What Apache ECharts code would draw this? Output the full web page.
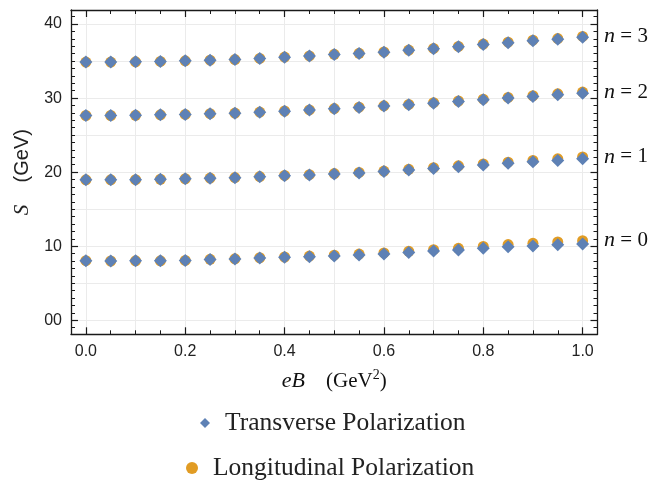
<!DOCTYPE html>
<html>
<head>
<meta charset="utf-8">
<title>S vs eB</title>
<script src="https://cdn.jsdelivr.net/npm/echarts@6/dist/echarts.min.js"></script>
<style>
  html, body { margin: 0; padding: 0; background: #ffffff; }
  #chart { width: 649px; height: 483px; }
</style>
</head>
<body>
<div id="chart"></div>
<script>
// Magnetic field strength eB (GeV^2)
const eB = [0.00, 0.05, 0.10, 0.15, 0.20, 0.25, 0.30, 0.35, 0.40, 0.45, 0.50,
            0.55, 0.60, 0.65, 0.70, 0.75, 0.80, 0.85, 0.90, 0.95, 1.00];

// S (GeV), transverse polarization, levels n = 0..3
const transverseN0 = [8.04, 8.00, 8.02, 8.03, 8.07, 8.20, 8.27, 8.40, 8.49, 8.59, 8.69,
                      8.82, 8.96, 9.14, 9.34, 9.50, 9.71, 9.92, 10.04, 10.18, 10.30];
const transverseN1 = [18.96, 18.96, 18.98, 19.04, 19.10, 19.19, 19.25, 19.38, 19.52, 19.62, 19.76,
                      19.90, 20.08, 20.29, 20.50, 20.74, 20.97, 21.19, 21.40, 21.58, 21.80];
const transverseN2 = [27.65, 27.65, 27.68, 27.74, 27.79, 27.88, 27.97, 28.10, 28.24, 28.38, 28.55,
                      28.73, 28.92, 29.10, 29.32, 29.54, 29.78, 30.00, 30.21, 30.45, 30.67];
const transverseN3 = [34.86, 34.86, 34.90, 34.95, 35.04, 35.13, 35.21, 35.35, 35.53, 35.68, 35.89,
                      36.02, 36.21, 36.45, 36.66, 36.93, 37.24, 37.49, 37.74, 37.95, 38.23];

// S (GeV), longitudinal polarization, levels n = 0..3
const longitudinalN0 = [8.04, 8.00, 8.02, 8.03, 8.08, 8.22, 8.30, 8.44, 8.54, 8.66, 8.78,
                        8.93, 9.09, 9.30, 9.53, 9.72, 9.97, 10.22, 10.39, 10.58, 10.75];
const longitudinalN1 = [18.96, 18.96, 18.98, 19.04, 19.11, 19.20, 19.27, 19.40, 19.55, 19.66, 19.81,
                        19.96, 20.15, 20.38, 20.60, 20.86, 21.11, 21.35, 21.59, 21.80, 22.05];
const longitudinalN2 = [27.65, 27.65, 27.68, 27.74, 27.79, 27.89, 27.98, 28.11, 28.26, 28.40, 28.58,
                        28.77, 28.96, 29.15, 29.38, 29.61, 29.86, 30.09, 30.32, 30.58, 30.82];
const longitudinalN3 = [34.86, 34.86, 34.90, 34.95, 35.04, 35.13, 35.21, 35.36, 35.54, 35.70, 35.91,
                        36.05, 36.24, 36.49, 36.71, 36.98, 37.30, 37.56, 37.82, 38.04, 38.33];

const levelNames = ['0', '1', '2', '3'];

// Tick and grid positions
const xMajorTicks = [0, 0.2, 0.4, 0.6, 0.8, 1.0];
const xMinorTicks = [0, 0.05, 0.1, 0.15, 0.2, 0.25, 0.3, 0.35, 0.4, 0.45, 0.5,
                     0.55, 0.6, 0.65, 0.7, 0.75, 0.8, 0.85, 0.9, 0.95, 1.0];
const xGridValues = [0, 0.1, 0.2, 0.3, 0.4, 0.5, 0.6, 0.7, 0.8, 0.9, 1.0];
const yMajorTicks = [0, 10, 20, 30, 40];
const yMinorTicks = [-1, 0, 1, 2, 3, 4, 5, 6, 7, 8, 9, 10, 11, 12, 13, 14, 15, 16, 17, 18, 19, 20,
                     21, 22, 23, 24, 25, 26, 27, 28, 29, 30, 31, 32, 33, 34, 35, 36, 37, 38, 39, 40, 41];
const yGridValues = [0, 5, 10, 15, 20, 25, 30, 35, 40];
const yTickLabels = ['00', '10', '20', '30', '40'];

const X_MIN = -0.03, X_MAX = 1.03;
const Y_MIN = -1.9, Y_MAX = 41.9;

const BLUE = '#5E81B5';
const ORANGE = '#E19C24';
const FRAME = '#1a1a1a';

function axisBase(min, max, position) {
  return {
    type: 'value', min: min, max: max, position: position,
    axisLine: { show: false, onZero: false },
    axisTick: { show: false },
    axisLabel: { show: false },
    splitLine: { show: false },
    minorTick: { show: false },
    silent: true
  };
}
function frameAxis(min, max, position, ticks, len) {
  const a = axisBase(min, max, position);
  a.axisLine = { show: true, onZero: false, lineStyle: { color: FRAME, width: 1.3 } };
  a.axisTick = { show: true, inside: true, length: len, customValues: ticks,
                 lineStyle: { color: FRAME, width: 1.2 } };
  return a;
}
function tickAxis(min, max, position, ticks, len) {
  const a = axisBase(min, max, position);
  a.axisTick = { show: true, inside: true, length: len, customValues: ticks,
                 lineStyle: { color: FRAME, width: 1 } };
  return a;
}
function gridAxis(min, max, position, values) {
  const a = axisBase(min, max, position);
  a.axisTick = { show: false, customValues: values };
  a.splitLine = { show: true, lineStyle: { color: '#ebebeb', width: 1 } };
  return a;
}

// Bottom axis with labels and title
const xMain = frameAxis(X_MIN, X_MAX, 'bottom', xMajorTicks, 7);
xMain.axisLabel = {
  show: true, customValues: xMajorTicks, margin: 9,
  formatter: v => Number(v).toFixed(1),
  fontFamily: 'Liberation Sans', fontSize: 16, color: '#222'
};
xMain.name = '{i|eB}    {t|(GeV}{s|2}{t|)}';
xMain.nameLocation = 'middle';
xMain.nameGap = 34;
xMain.nameMoveOverlap = false;
xMain.nameTextStyle = {
  fontFamily: 'Liberation Serif', fontSize: 21, color: '#111',
  rich: {
    i: { fontFamily: 'Liberation Serif', fontStyle: 'italic', fontSize: 22, color: '#111' },
    t: { fontFamily: 'Liberation Serif', fontSize: 21, color: '#111' },
    s: { fontFamily: 'Liberation Serif', fontSize: 14, color: '#111', verticalAlign: 'top', padding: [0, 0, 12, 0] }
  }
};

// Left axis with labels and title
const yMain = frameAxis(Y_MIN, Y_MAX, 'left', yMajorTicks, 7);
yMain.axisLabel = {
  show: true, customValues: yMajorTicks, margin: 9,
  formatter: v => yTickLabels[yMajorTicks.indexOf(Math.round(v))],
  fontFamily: 'Liberation Sans', fontSize: 16, color: '#222'
};
yMain.name = '{i|S}    (GeV)';
yMain.nameLocation = 'middle';
yMain.nameGap = 38;
yMain.nameMoveOverlap = false;
yMain.nameTextStyle = {
  fontFamily: 'Liberation Sans', fontSize: 20, color: '#222',
  rich: { i: { fontFamily: 'Liberation Serif', fontStyle: 'italic', fontSize: 21, color: '#222' } }
};

const xAxes = [
  xMain,
  tickAxis(X_MIN, X_MAX, 'bottom', xMinorTicks, 4),
  frameAxis(X_MIN, X_MAX, 'top', xMajorTicks, 7),
  tickAxis(X_MIN, X_MAX, 'top', xMinorTicks, 4),
  gridAxis(X_MIN, X_MAX, 'bottom', xGridValues)
];
const yAxes = [
  yMain,
  tickAxis(Y_MIN, Y_MAX, 'left', yMinorTicks, 4),
  frameAxis(Y_MIN, Y_MAX, 'right', yMajorTicks, 7),
  tickAxis(Y_MIN, Y_MAX, 'right', yMinorTicks, 4),
  gridAxis(Y_MIN, Y_MAX, 'left', yGridValues)
];

function pairs(values) {
  return eB.map((x, i) => [x, values[i]]);
}

const longitudinalSets = [longitudinalN0, longitudinalN1, longitudinalN2, longitudinalN3];
const transverseSets = [transverseN0, transverseN1, transverseN2, transverseN3];

const series = [];
longitudinalSets.forEach((vals, k) => {
  series.push({
    name: 'Longitudinal Polarization', type: 'scatter',
    xAxisIndex: 0, yAxisIndex: 0,
    symbol: 'circle', symbolSize: 11,
    itemStyle: { color: ORANGE, opacity: 1 },
    data: pairs(vals),
    z: 2, silent: true,
    label: {
      show: true, position: 'right', distance: 16,
      formatter: p => p.dataIndex === eB.length - 1 ? '{i|n} = ' + levelNames[k] : '',
      fontFamily: 'Liberation Serif', fontSize: 21, color: '#111',
      rich: { i: { fontFamily: 'Liberation Serif', fontStyle: 'italic', fontSize: 22, color: '#111' } }
    }
  });
});
transverseSets.forEach((vals) => {
  series.push({
    name: 'Transverse Polarization', type: 'scatter',
    xAxisIndex: 0, yAxisIndex: 0,
    symbol: 'diamond', symbolSize: [13, 13],
    itemStyle: { color: BLUE, opacity: 1 },
    data: pairs(vals),
    z: 3, silent: true
  });
});

const legendText = { fontFamily: 'Liberation Serif', fontSize: 25.5, color: '#222', padding: [0, 0, 0, 10] };

const chart = echarts.init(document.getElementById('chart'), null, { renderer: 'canvas' });
chart.setOption({
  animation: false,
  backgroundColor: '#ffffff',
  grid: { left: 71, right: 51.5, top: 10, bottom: 148.7, containLabel: false },
  xAxis: xAxes,
  yAxis: yAxes,
  legend: [
    { data: [{ name: 'Transverse Polarization', icon: 'diamond' }],
      left: 195, top: 405, itemWidth: 10, itemHeight: 10,
      selectedMode: false, textStyle: legendText },
    { data: [{ name: 'Longitudinal Polarization', icon: 'circle' }],
      left: 181, top: 450, itemWidth: 12, itemHeight: 12,
      selectedMode: false, textStyle: legendText }
  ],
  series: series
});
</script>
</body>
</html>
